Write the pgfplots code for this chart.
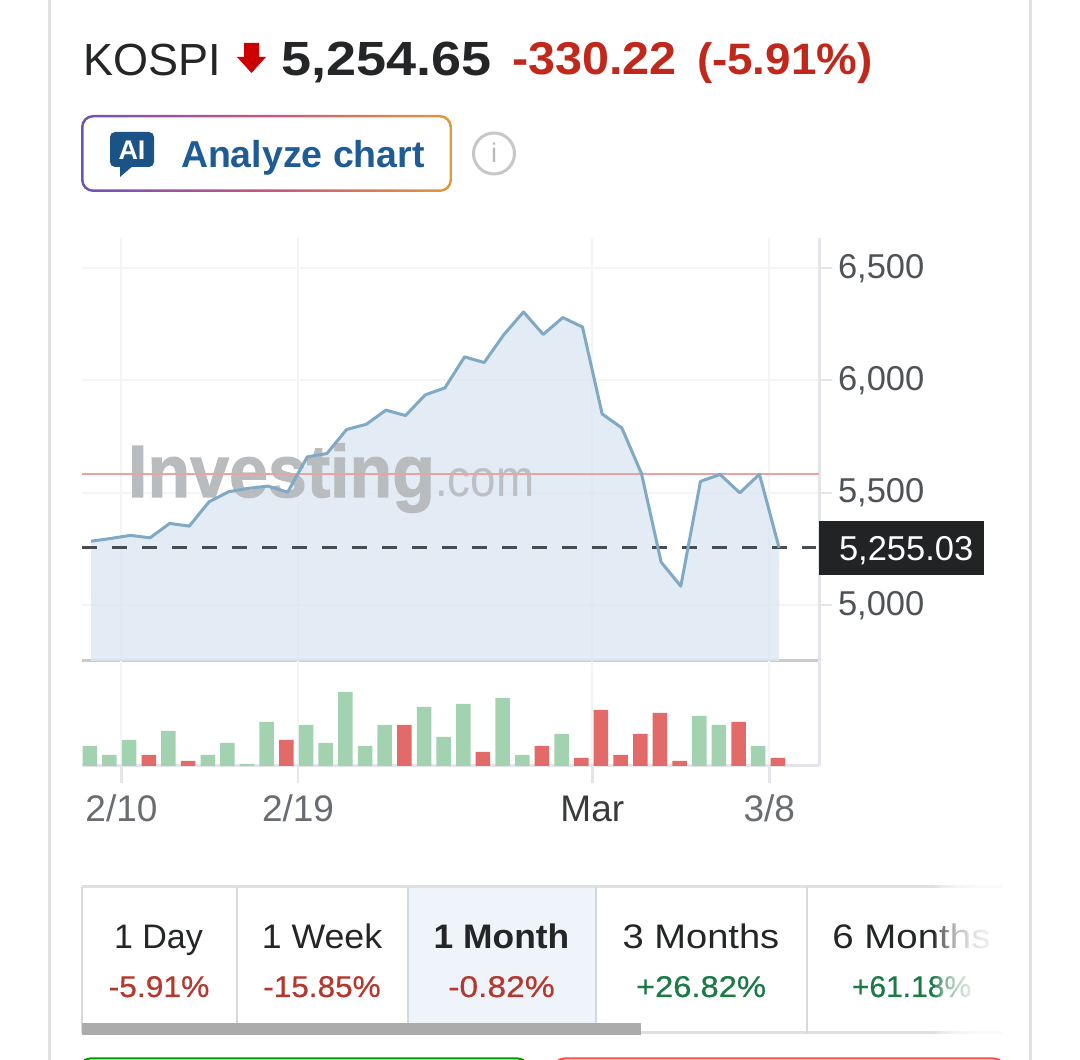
\documentclass[border=0pt]{standalone}
\usepackage{pgfplots}
\usepackage{pgfplotstable}
\usepackage{fontspec}
\pgfplotsset{compat=1.18}
\setmainfont{Liberation Sans}
\newfontfamily\med[FakeBold=0.5]{Liberation Sans}
\newfontfamily\wm[BoldFeatures={FakeBold=1.6}]{Liberation Sans}
\newcommand{\fs}[1]{\fontsize{#1}{#1}\selectfont}
\definecolor{gridc}{HTML}{F2F4F6}
\definecolor{axisc}{HTML}{E3E5E8}
\definecolor{basec}{HTML}{C8CCD1}
\definecolor{tickc}{HTML}{4F5358}
\definecolor{linec}{HTML}{7FA9C4}
\definecolor{areac}{HTML}{DCE7F3}
\definecolor{refc}{HTML}{E9A3A3}
\definecolor{dashc}{HTML}{474C52}
\definecolor{upc}{HTML}{A3D2B1}
\definecolor{dnc}{HTML}{E26A68}
\definecolor{redt}{HTML}{C1281C}
\definecolor{redp}{HTML}{B4382E}
\definecolor{grnp}{HTML}{1C7A46}
\definecolor{bluet}{HTML}{1F5C96}
\definecolor{sepc}{HTML}{D5D8DC}
\definecolor{inkc}{HTML}{232526}
\definecolor{gradl}{HTML}{6B55B5}
\definecolor{gradm}{HTML}{C85582}
\definecolor{gradr}{HTML}{E09A3A}
\definecolor{tabc}{HTML}{EEF4FA}
\definecolor{wmc}{HTML}{B9BCBF}
\definecolor{wmd}{HTML}{BCC0C4}
\pgfplotstableread{
i price
0 5284
1 5296
2 5310
3 5299
4 5363
5 5351
6 5459
7 5504
8 5519
9 5529
10 5502
11 5659
12 5674
13 5781
14 5804
15 5867
16 5843
17 5935
18 5966
19 6104
20 6079
21 6203
22 6304
23 6204
24 6279
25 6237
26 5850
27 5788
28 5585
29 5191
30 5084
31 5550
32 5581
33 5499
34 5582
35 5255
}\pricetable
\pgfplotstableread{
i vol
0 60
1 33
2 78
4 105
6 33
7 69
8 6
9 132
11 123
12 69
13 222
14 60
15 123
17 177
18 87
19 186
21 204
22 33
24 96
31 150
32 123
34 60
}\uptable
\pgfplotstableread{
i vol
3 33
5 15
10 78
16 123
20 42
23 60
25 24
26 168
27 33
28 96
29 159
30 15
33 132
35 24
}\downtable
\tikzset{px/.style={x=1pt,y=-1pt,yshift=1060pt},
  tl/.style={anchor=base west,inner sep=0pt,outer sep=0pt},
  tc/.style={anchor=base,inner sep=0pt,outer sep=0pt}}
\pgfplotsset{chart/.style={
  scale only axis,width=737pt,
  xmin=-0.458,xmax=37.03,
  xtick={1.55,10.53,25.5,34.5}}}
\begin{document}
\begin{tikzpicture}
\path[use as bounding box,fill=white] (0,0) rectangle (1080pt,1060pt);
% price area, grid and value axis
\begin{axis}[chart,at={(82pt,399pt)},anchor=south west,height=423pt,
  ymin=4751,ymax=6633,
  axis x line*=bottom,axis y line*=right,
  x axis line style={-,color=basec,line width=3pt},
  y axis line style={-,color=axisc,line width=3pt},
  xticklabels={},
  xmajorgrids,ymajorgrids,
  major grid style={color=gridc,line width=2pt},
  ytick={5000,5500,6000,6500},
  xtick style={draw=none},
  ytick style={color=axisc,line width=2pt},
  tick align=outside,major tick length=13pt,
  yticklabel style={font=\fs{34.5},color=tickc,xshift=2.5pt,yshift=-0.3pt},
  /pgf/number format/.cd,1000 sep={,},assume math mode=true]
\addplot[fill=areac,fill opacity=0.8,draw=none] table[x=i,y=price]{\pricetable} \closedcycle;
\end{axis}
% watermark
\begin{scope}[px]
\node[tl,xscale=0.945,font=\fs{74}\wm\bfseries,text=wmc] at (128,497) {Investing};
\node[tl,xscale=0.88,font=\fs{52},text=wmd] at (435,497) {.com};
\end{scope}
% lines
\begin{axis}[chart,at={(82pt,399pt)},anchor=south west,height=423pt,
  ymin=4751,ymax=6633,hide axis]
\addplot[color=refc,line width=2pt] coordinates {(-0.458,5581) (37.03,5581)};
\addplot[color=dashc,line width=3pt,dash pattern=on 15pt off 15pt] coordinates {(-0.458,5255) (36.9,5255)};
\addplot[color=linec,line width=3pt,line join=round] table[x=i,y=price]{\pricetable};
\end{axis}
% volume
\begin{axis}[chart,at={(82pt,294pt)},anchor=south west,height=105pt,
  ymin=0,ymax=315,
  axis x line*=bottom,axis y line*=right,
  x axis line style={-,color=axisc,line width=3pt},
  y axis line style={-,color=axisc,line width=3pt},
  ytick=\empty,
  xmajorgrids,major grid style={color=gridc,line width=2pt},
  xtick style={color=axisc,line width=2.5pt},
  tick align=outside,major tick length=17pt,
  xticklabels={{\textcolor{tickc!85!white}{2/10}},{\textcolor{tickc!85!white}{2/19}},{\textcolor{inkc!90!white}{Mar}},{\textcolor{tickc!85!white}{3/8}}},
  xticklabel style={font=\fs{37},text height=27pt,text depth=1pt,yshift=-8pt}]
\addplot[ybar,bar width=14.5pt,bar shift=-1.2pt,fill=upc,draw=none] table[x=i,y=vol]{\uptable};
\addplot[ybar,bar width=14.5pt,bar shift=-1.2pt,fill=dnc,draw=none] table[x=i,y=vol]{\downtable};
\end{axis}
% everything around the chart
\begin{scope}[px]
\fill[fill=inkc!95!black] (819,521) rectangle (984,575);
\node[tl,font=\fs{34.5},text=white] at (839,561) {5,255.03};
% card borders
\draw[color=black!12,line width=3pt] (49.5,0) -- (49.5,1060);
\draw[color=black!12,line width=3pt] (1030.5,0) -- (1030.5,1060);
% header
\node[tl,font=\fs{45},text=inkc] at (83,76) {KOSPI};
\fill[fill=red!80!black] (244,43) -- (259,43) -- (259,57) -- (266,57) -- (251.5,73) -- (237,57) -- (244,57) -- cycle;
\node[tl,xscale=1.125,font=\fs{48}\bfseries,text=inkc] at (281,76) {5,254.65};
\node[tl,xscale=1.055,font=\fs{46}\bfseries,text=redt] at (512,75) {-330.22};
\node[tl,xscale=1.04,font=\fs{44}\bfseries,text=redt] at (697,75) {(-5.91\%)};
% button
\shade[left color=gradl,right color=gradr,middle color=gradm,rounded corners=12pt] (81,115) rectangle (452,192);
\fill[white,rounded corners=10pt] (83.5,117.5) rectangle (449.5,189.5);
\fill[fill=bluet!90!black,rounded corners=5pt] (110,132) rectangle (154,167);
\fill[fill=bluet!90!black] (120,165) -- (120,177) -- (134,165) -- cycle;
\node[tc,font=\fs{27}\bfseries,text=white] at (132,160) {AI};
\node[tl,font=\fs{37.5}\bfseries,text=bluet] at (181,167.5) {Analyze chart};
\draw[color=black!22,line width=3pt] (494,153.5) circle (20.5);
\node[tc,font=\fs{27},text=black!28] at (494,163) {i};
% tabs
\fill[fill=tabc] (408,887) rectangle (596,1033);
\draw[color=black!12,line width=3pt] (82,887) -- (1002,887);
\draw[color=black!12,line width=3pt] (82,1033) -- (1002,1033);
\foreach \x in {82,237,408,596,807} \draw[color=sepc,line width=2pt] (\x,887) -- (\x,1033);
\node[tc,font=\fs{34},text=inkc] at (158.5,949) {1 Day};
\node[tc,xscale=1.05,font=\fs{34},text=inkc] at (322,949) {1 Week};
\node[tc,xscale=1.04,font=\fs{34}\bfseries,text=inkc] at (501.5,949) {1 Month};
\node[tc,xscale=1.12,font=\fs{34},text=inkc] at (701,949) {3 Months};
\node[tc,xscale=1.13,font=\fs{34},text=inkc] at (911.5,949) {6 Months};
\node[tc,xscale=1.06,font=\fs{30}\med,text=redp] at (159,997) {-5.91\%};
\node[tc,xscale=1.05,font=\fs{30}\med,text=redp] at (322,997) {-15.85\%};
\node[tc,xscale=1.12,font=\fs{30}\med,text=redp] at (501.5,997) {-0.82\%};
\node[tc,xscale=1.09,font=\fs{30}\med,text=grnp] at (701,997) {+26.82\%};
\node[tc,font=\fs{30}\med,text=grnp] at (911.5,997) {+61.18\%};
\foreach \i in {0,...,19} \fill[white,opacity=0.15] ({935+3.2*\i},884) rectangle (1004,1036);
\fill[fill=black!33] (82,1023) rectangle (641,1035);
% buttons cut off at the bottom edge
\draw[color=green!60!black,line width=2pt] (84,1060) -- (90,1058.5) -- (518,1058.5) -- (524,1060);
\draw[color=red!70!white,line width=2pt] (558,1060) -- (564,1058.5) -- (994,1058.5) -- (1000,1060);
\end{scope}
\end{tikzpicture}
\end{document}
